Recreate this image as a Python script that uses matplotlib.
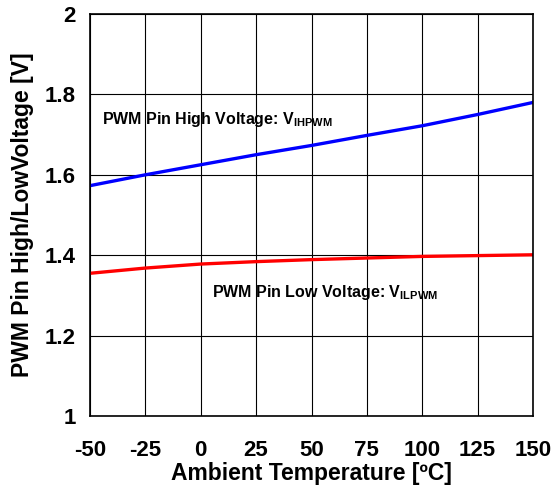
import numpy as np
import matplotlib.pyplot as plt

plt.rcParams['font.family'] = ['Liberation Sans', 'DejaVu Sans']
plt.rcParams['font.weight'] = 'bold'
plt.rcParams['axes.unicode_minus'] = False
plt.rcParams['mathtext.fontset'] = 'custom'
plt.rcParams['mathtext.rm'] = 'Liberation Sans:bold'
plt.rcParams['mathtext.bf'] = 'Liberation Sans:bold'

# Data
temp = [-50, -25, 0, 25, 50, 75, 100, 125, 150]
v_high = [1.573, 1.600, 1.625, 1.650, 1.673, 1.698, 1.722, 1.750, 1.780]
v_low = [1.355, 1.368, 1.378, 1.384, 1.389, 1.393, 1.397, 1.399, 1.401]

fig = plt.figure(figsize=(5.51, 4.9), dpi=100)
ax = fig.add_axes([90 / 551, 1 - 416 / 490, 443 / 551, 402 / 490])

ax.plot(temp, v_high, color='#0000ff', lw=2.4)
ax.plot(temp, v_low, color='#ff0000', lw=2.4)

ax.set_xlim(-50, 150)
ax.set_ylim(1, 2)
ax.set_xticks(np.arange(-50, 151, 25))
ax.set_yticks([1, 1.2, 1.4, 1.6, 1.8, 2])
ax.set_yticklabels(['1', '1.2', '1.4', '1.6', '1.8', '2'])
ax.grid(True, color='black', lw=0.8)
ax.tick_params(direction='in', length=0, labelsize=16)
ax.tick_params(axis='x', pad=17)
ax.tick_params(axis='y', pad=10)
for s in ax.spines.values():
    s.set_linewidth(1.2)

ax.set_xlabel('Ambient Temperature [ºC]', fontsize=16.5, fontweight='bold', labelpad=1)
ax.set_ylabel('PWM Pin High/LowVoltage [V]', fontsize=16.5, fontweight='bold', labelpad=8)

ax.text(-44.5, 1.737, r'PWM Pin High Voltage: V$_{\mathregular{IHPWM}}$',
        fontsize=11.5, fontweight='bold', va='center', ha='left')
ax.text(5, 1.306, r'PWM Pin Low Voltage: V$_{\mathregular{ILPWM}}$',
        fontsize=11.5, fontweight='bold', va='center', ha='left')

fig.savefig('out.png', dpi=100)
